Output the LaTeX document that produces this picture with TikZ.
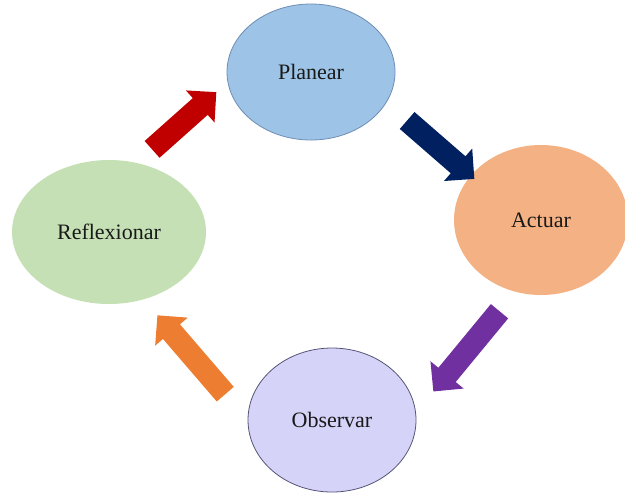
\documentclass[tikz,border=0pt]{standalone}
\usepackage{fontspec}
\setmainfont{Liberation Serif}
\usetikzlibrary{shapes.geometric,shapes.arrows}
\definecolor{azulplan}{HTML}{9DC3E6}
\definecolor{bordeplan}{HTML}{6F8DB5}
\definecolor{naranjaact}{HTML}{F4B183}
\definecolor{lilaobs}{HTML}{D5D3F8}
\definecolor{bordeobs}{HTML}{555577}
\definecolor{verderef}{HTML}{C5E0B4}
\definecolor{flecharoja}{HTML}{C00000}
\definecolor{flechaazul}{HTML}{002060}
\definecolor{flechamorada}{HTML}{7030A0}
\definecolor{flechanaranja}{HTML}{ED7D31}
\tikzset{
  fase/.style={ellipse, inner sep=0pt, font=\fontsize{11}{13}\selectfont, text=black!90},
  flecha/.style={single arrow, fill=#1, draw=none, inner xsep=0pt, inner ysep=5.25pt,
    minimum width=21.5pt, single arrow head extend=5pt}
}
\begin{document}
\begin{tikzpicture}[x=0.5pt,y=-0.5pt]
		\useasboundingbox (0,0) rectangle (625,495);
		% las cuatro fases
		\node[fase, fill=azulplan, draw=bordeplan, minimum width=84pt, minimum height=68pt] (planear) at (311,72){Planear};
		\node[fase, fill=naranjaact, minimum width=87pt, minimum height=75pt] (actuar) at (541,220){Actuar};
		\node[fase, fill=lilaobs, draw=bordeobs, minimum width=84pt, minimum height=72pt] (observar) at (332,420){Observar};
		\node[fase, fill=verderef, minimum width=97pt, minimum height=72pt] (reflexionar) at (109,232){Reflexionar};
		% flechas del ciclo
		\node[flecha=flechaazul, minimum height=44.5pt, rotate=-41] (f1) at (436.5,146){};
		\node[flecha=flechamorada, minimum height=52pt, rotate=-129.5] (f2) at (470,347){};
		\node[flecha=flechanaranja, minimum height=52pt, rotate=130.7] (f3) at (195,359){};
		\node[flecha=flecharoja, minimum height=43pt, rotate=41.7] (f4) at (180,124.5){};
	\end{tikzpicture}
\end{document}
